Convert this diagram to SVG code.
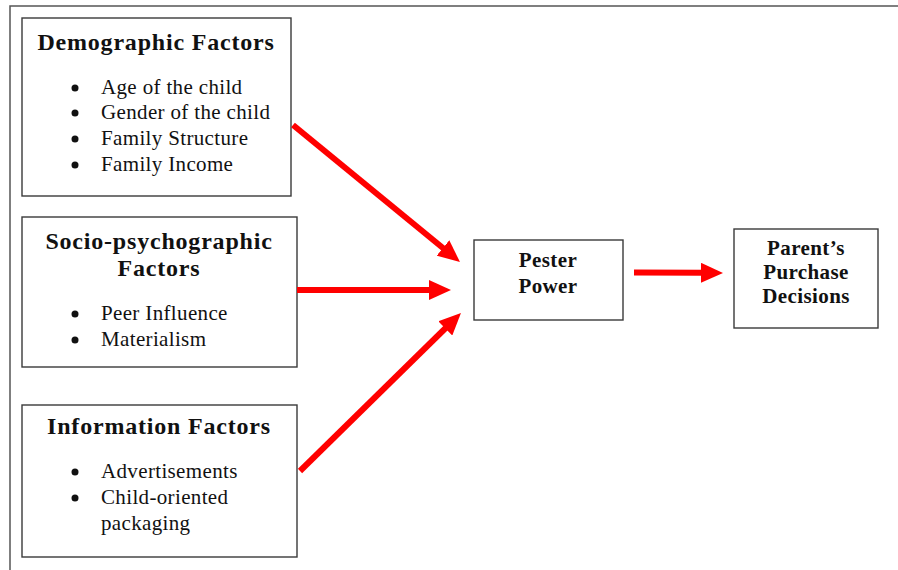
<svg xmlns="http://www.w3.org/2000/svg" width="898" height="570" viewBox="0 0 898 570">
<style>
.box{fill:#fff;stroke:#3a3a3a;stroke-width:1.4}
.frame{fill:none;stroke:#555;stroke-width:1.5}
.title{font-family:"Liberation Serif","Times New Roman",serif;font-weight:bold;font-size:24px;fill:#111;text-anchor:middle;letter-spacing:0.8px}
.small{font-family:"Liberation Serif","Times New Roman",serif;font-weight:bold;font-size:21px;fill:#111;text-anchor:middle;letter-spacing:0.4px}
.item{font-family:"Liberation Serif","Times New Roman",serif;font-size:21px;fill:#111;letter-spacing:0.35px}
.bul{fill:#111}
.arr{stroke:#ff0000;stroke-width:6;fill:none;marker-end:url(#ah)}
</style>
<defs>
<marker id="ah" viewBox="0 0 22 20" refX="2" refY="10" markerUnits="userSpaceOnUse" markerWidth="22" markerHeight="20" orient="auto">
<path d="M0,0 L22,10 L0,20 z" fill="#ff0000"/>
</marker>
</defs>
<rect width="898" height="570" fill="#fff"/>
<path class="frame" d="M10,570 L10,6 L898,6"/>

<g id="demographic">
<rect class="box" x="22" y="18" width="269" height="178"/>
<text class="title" x="156" y="50">Demographic Factors</text>
<circle class="bul" cx="75" cy="88" r="3.5"/>
<text class="item" x="101" y="94">Age of the child</text>
<circle class="bul" cx="75" cy="113" r="3.5"/>
<text class="item" x="101" y="119">Gender of the child</text>
<circle class="bul" cx="75" cy="139" r="3.5"/>
<text class="item" x="101" y="145">Family Structure</text>
<circle class="bul" cx="75" cy="165" r="3.5"/>
<text class="item" x="101" y="171">Family Income</text>
</g>

<g id="socio">
<rect class="box" x="22" y="217" width="275" height="150"/>
<text class="title" x="159" y="249">Socio-psychographic</text>
<text class="title" x="159" y="276">Factors</text>
<circle class="bul" cx="75" cy="314" r="3.5"/>
<text class="item" x="101" y="320">Peer Influence</text>
<circle class="bul" cx="75" cy="340" r="3.5"/>
<text class="item" x="101" y="346">Materialism</text>
</g>

<g id="information">
<rect class="box" x="22" y="405" width="275" height="152"/>
<text class="title" x="159" y="434">Information Factors</text>
<circle class="bul" cx="75" cy="472" r="3.5"/>
<text class="item" x="101" y="478">Advertisements</text>
<circle class="bul" cx="75" cy="498" r="3.5"/>
<text class="item" x="101" y="504">Child-oriented</text>
<text class="item" x="101" y="530">packaging</text>
</g>

<g id="pester">
<rect class="box" x="474" y="240" width="149" height="80"/>
<text class="small" x="548" y="267">Pester</text>
<text class="small" x="548" y="293">Power</text>
</g>

<g id="parent">
<rect class="box" x="734" y="229" width="144" height="99"/>
<text class="small" x="806" y="255">Parent’s</text>
<text class="small" x="806" y="279">Purchase</text>
<text class="small" x="806" y="303">Decisions</text>
</g>

<g id="connectors">
<line class="arr" x1="293" y1="125" x2="444.5" y2="249.3"/>
<line class="arr" x1="297" y1="290" x2="431" y2="290"/>
<line class="arr" x1="300" y1="471" x2="446.7" y2="327"/>
<line class="arr" x1="634" y1="272.5" x2="703" y2="272.8"/>
</g>
</svg>
